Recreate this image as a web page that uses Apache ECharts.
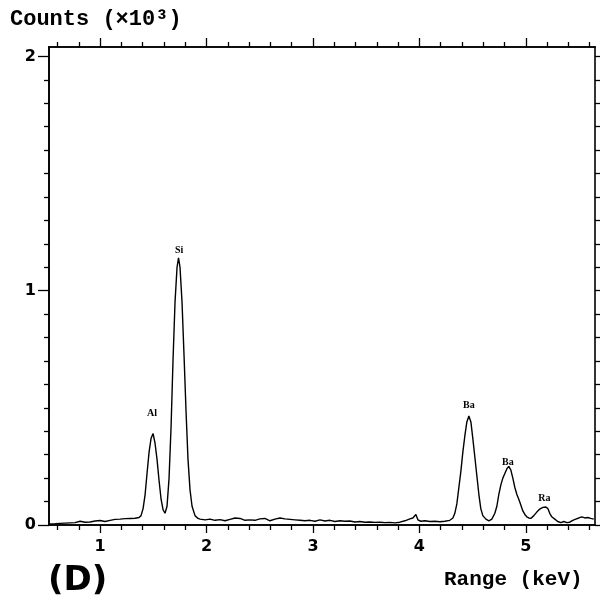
<!DOCTYPE html>
<html><head><meta charset="utf-8">
<script src="https://cdn.jsdelivr.net/npm/echarts@6/dist/echarts.min.js"></script>
<style>html,body{margin:0;padding:0;background:#fff}#c{width:601px;height:603px}</style>
</head><body><div id="c"></div>
<script>
// Spectrum: energy (keV) and counts (x10^3)
const energy = [0.521,0.578,0.671,0.765,0.812,0.859,0.906,0.953,1.000,1.047,1.094,1.141,1.188,1.235,1.282,1.329,1.366,1.385,
1.404,1.423,1.441,1.460,1.479,1.498,1.516,1.535,1.554,1.573,1.592,1.610,1.629,1.648,1.667,1.685,1.704,1.723,1.737,1.751,1.770,1.789,1.808,1.826,1.845,1.864,1.892,1.920,
1.939,1.986,2.033,2.080,2.127,2.174,2.221,2.268,2.315,2.362,2.408,2.455,2.502,2.549,2.596,2.643,2.690,2.737,2.784,2.831,2.878,
2.925,2.972,3.019,3.066,3.113,3.160,3.207,3.254,3.300,3.347,3.394,3.441,3.488,3.535,3.582,3.629,3.676,3.723,3.770,3.817,3.864,3.911,3.939,3.967,3.986,4.014,4.052,4.099,4.146,4.192,4.239,4.286,4.315,
4.333,4.352,4.371,4.390,4.408,4.427,4.446,4.465,4.484,4.502,4.521,4.540,4.559,4.577,4.596,4.625,4.653,4.681,4.709,4.728,4.746,4.765,4.784,4.803,4.822,4.840,4.859,4.878,4.897,4.916,4.934,4.953,4.972,4.991,5.009,5.028,5.047,5.075,5.103,5.131,5.160,5.188,5.207,5.225,5.244,5.272,5.300,5.329,5.357,5.385,5.413,5.441,5.469,5.498,5.526,5.554,5.582,5.610,5.638];
const counts = [0.005,0.006,0.008,0.010,0.016,0.012,0.013,0.017,0.019,0.015,0.020,0.024,0.025,0.027,0.028,0.029,0.032,0.040,
0.07,0.13,0.22,0.31,0.37,0.39,0.35,0.28,0.19,0.11,0.065,0.05,0.08,0.20,0.42,0.70,0.95,1.10,1.14,1.10,0.95,0.72,0.48,0.28,0.15,0.08,0.04,0.028,
0.025,0.022,0.025,0.020,0.023,0.018,0.024,0.030,0.028,0.020,0.022,0.020,0.026,0.028,0.018,0.025,0.030,0.026,0.024,0.022,0.020,
0.018,0.020,0.016,0.022,0.017,0.020,0.015,0.018,0.016,0.017,0.013,0.015,0.012,0.013,0.011,0.012,0.010,0.011,0.009,0.012,0.018,0.026,0.030,0.045,0.022,0.016,0.018,0.015,0.016,0.014,0.016,0.020,0.030,
0.05,0.09,0.16,0.23,0.31,0.38,0.44,0.465,0.44,0.37,0.29,0.21,0.13,0.07,0.04,0.025,0.018,0.025,0.05,0.08,0.13,0.17,0.20,0.22,0.24,0.25,0.235,0.20,0.16,0.13,0.11,0.085,0.06,0.045,0.035,0.03,0.028,0.04,0.055,0.068,0.075,0.077,0.07,0.05,0.035,0.025,0.015,0.01,0.015,0.01,0.012,0.02,0.025,0.03,0.035,0.03,0.032,0.028,0.025];

// Peak annotations
const peakNames = ['Al','Si','Ba','Ba','Ra'];
const peakLabelX = [1.488,1.742,4.465,4.831,5.175];
const peakLabelY = [0.478,1.173,0.512,0.269,0.115];

// Tick values
const xMajorTicks = [1,2,3,4,5];
const xMinorTicks = [0.6,0.8,1.2,1.4,1.6,1.8,2.2,2.4,2.6,2.8,3.2,3.4,3.6,3.8,4.2,4.4,4.6,4.8,5.2,5.4,5.6];
const yMajorTicks = [0,1,2];
const yMinorTicks = [0.1,0.2,0.3,0.4,0.5,0.6,0.7,0.8,0.9,1.1,1.2,1.3,1.4,1.5,1.6,1.7,1.8,1.9];
const yRightTicks = [0,0.1,0.2,0.3,0.4,0.5,0.6,0.7,0.8,0.9,1,1.1,1.2,1.3,1.4,1.5,1.6,1.7,1.8,1.9,2];

const X_MIN = 0.52, X_MAX = 5.65, Y_MIN = 0, Y_MAX = 2.04;
const lineStyle = {color:'#000', width:1.6};
const tickFont = {color:'#000', fontFamily:'DejaVu Sans', fontWeight:'bold', fontSize:16};

function xAx(pos, ticks, len, labels){
  return {type:'value', position:pos, min:X_MIN, max:X_MAX,
    axisLine:{show:true, onZero:false, lineStyle},
    axisTick:{show:true, inside:false, length:len, customValues:ticks, lineStyle:{color:'#000',width:1.3}},
    axisLabel: labels ? Object.assign({show:true, customValues:ticks, margin:14}, tickFont) : {show:false},
    splitLine:{show:false}};
}
function yAx(pos, ticks, len, labels){
  return {type:'value', position:pos, min:Y_MIN, max:Y_MAX,
    axisLine:{show:true, onZero:false, lineStyle},
    axisTick:{show:true, inside:false, length:len, customValues:ticks, lineStyle:{color:'#000',width:1.3}},
    axisLabel: labels ? Object.assign({show:true, customValues:ticks, margin:13}, tickFont) : {show:false},
    splitLine:{show:false}};
}

const spectrum = energy.map((e,i)=>[e, counts[i]]);
const peaks = peakNames.map((n,i)=>({name:n, value:[peakLabelX[i], peakLabelY[i]]}));

const chart = echarts.init(document.getElementById('c'), null, {renderer:'canvas'});
chart.setOption({
  backgroundColor:'#fff',
  animation:false,
  title:[
    {text:'Counts (×10³)', left:5, top:3, textStyle:{fontFamily:'Liberation Mono', fontWeight:'bold', fontSize:22, color:'#000'}},
    {text:'Range (keV)', left:439, top:564, textStyle:{fontFamily:'Liberation Mono', fontWeight:'bold', fontSize:21, color:'#000'}},
    {text:'(D)', left:43, top:559, textStyle:{fontFamily:'DejaVu Sans', fontWeight:'bold', fontSize:34, color:'#000'}}
  ],
  grid:{left:49, right:6, top:47, bottom:78, containLabel:false},
  xAxis:[xAx('bottom', xMajorTicks, 8, true), xAx('bottom', xMinorTicks, 5, false),
         xAx('top', xMajorTicks, 9, false), xAx('top', xMinorTicks, 5, false)],
  yAxis:[yAx('left', yMajorTicks, 11, true), yAx('left', yMinorTicks, 5, false),
         yAx('right', yRightTicks, 5, false)],
  series:[
    {type:'line', data:spectrum, xAxisIndex:0, yAxisIndex:0, showSymbol:false, symbol:'none',
     lineStyle:{color:'#000', width:1.4}, z:3},
    {type:'scatter', data:peaks, xAxisIndex:0, yAxisIndex:0, symbolSize:0, z:4,
     itemStyle:{opacity:1},
     label:{show:true, position:'inside', formatter:p=>p.name, color:'#000', opacity:1,
       fontFamily:'Liberation Serif', fontWeight:'bold', fontSize:10}}
  ]
});
</script></body></html>
